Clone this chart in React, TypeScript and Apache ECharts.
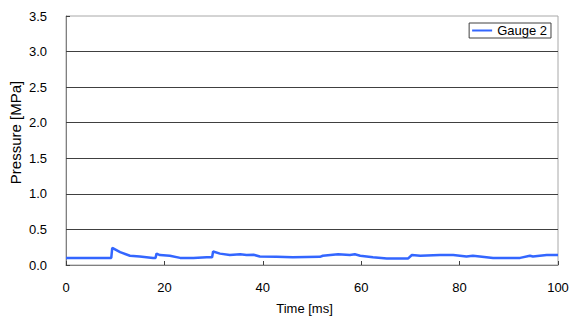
import React, { useEffect, useRef } from "react";
import * as echarts from "echarts";

const timeMs = [0, 9.2, 9.4, 11.0, 13.0, 15.0, 17.7, 18.2, 18.4, 19.1, 21.1, 23.2, 25.9, 28.6, 29.7, 29.9, 31.3, 33.3, 35.4, 36.7, 38.1, 39.4, 42.8, 46.1, 51.6, 52.2, 55.3, 57.7, 58.7, 59.8, 62.4, 65.2, 69.5, 70.3, 72.0, 76.0, 78.7, 81.4, 82.7, 84.1, 86.8, 92.3, 94.3, 94.9, 97.7, 100];
const gauge2 = [0.10, 0.10, 0.24, 0.18, 0.13, 0.12, 0.10, 0.10, 0.16, 0.14, 0.13, 0.10, 0.10, 0.11, 0.11, 0.19, 0.16, 0.14, 0.15, 0.14, 0.145, 0.12, 0.115, 0.11, 0.115, 0.13, 0.15, 0.14, 0.15, 0.13, 0.11, 0.09, 0.09, 0.14, 0.13, 0.14, 0.14, 0.12, 0.13, 0.12, 0.10, 0.10, 0.13, 0.12, 0.14, 0.14];
const seriesName = "Gauge 2";

export default function App() {
  const ref = useRef<HTMLDivElement>(null);
  useEffect(() => {
    if (!ref.current) return;
    const chart = echarts.init(ref.current, null, { renderer: "svg" });
    const font = "'Liberation Sans', Arial, sans-serif";
    chart.setOption({
      animation: false,
      backgroundColor: "#ffffff",
      textStyle: { fontFamily: font },
      grid: {
        left: 66,
        right: 22,
        top: 16,
        bottom: 59,
        containLabel: false,
        outerBoundsMode: "none",
        show: true,
        borderColor: "#a8a8a8",
        borderWidth: 1,
      },
      legend: {
        top: 23,
        right: 29,
        orient: "vertical",
        backgroundColor: "#ffffff",
        borderColor: "#404040",
        borderWidth: 1,
        borderRadius: 0,
        padding: [1, 4, 1, 3],
        itemWidth: 20,
        itemHeight: 12,
        itemGap: 4,
        textStyle: { fontSize: 13, color: "#000", fontFamily: font },
        data: [{ name: seriesName, icon: "path://M0,5 L20,5 L20,7 L0,7 Z" }],
      },
      xAxis: {
        type: "value",
        min: 0,
        max: 100,
        interval: 20,
        name: "Time [ms]",
        nameLocation: "middle",
        nameGap: 37,
        nameMoveOverlap: false,
        nameTextStyle: { fontSize: 13, color: "#000", fontFamily: font, padding: [0, 15, 0, 0] },
        axisLine: { lineStyle: { color: "#808080", width: 1 } },
        axisTick: { inside: true, length: 4, lineStyle: { color: "#404040" } },
        axisLabel: { fontSize: 13, color: "#000", margin: 16, fontFamily: font },
        splitLine: { show: false },
      },
      yAxis: {
        type: "value",
        min: 0,
        max: 3.5,
        interval: 0.5,
        name: "Pressure [MPa]",
        nameLocation: "middle",
        nameGap: 43,
        nameMoveOverlap: false,
        nameTextStyle: { fontSize: 15, color: "#000", fontFamily: font, padding: [0, 0, 0, 16] },
        axisLine: { show: true, lineStyle: { color: "#808080", width: 1 } },
        axisTick: { show: true, inside: true, length: 4, lineStyle: { color: "#404040" } },
        axisLabel: {
          fontSize: 13,
          color: "#000",
          margin: 19,
          fontFamily: font,
          formatter: (v: number) => v.toFixed(1),
        },
        splitLine: {
          show: true,
          showMinLine: false,
          showMaxLine: false,
          lineStyle: { color: "#404040", width: 1 },
        },
      },
      series: [
        {
          name: seriesName,
          type: "line",
          symbol: "none",
          data: timeMs.map((t, i) => [t, gauge2[i]]),
          lineStyle: { color: "#3366ff", width: 2.5 },
          itemStyle: { color: "#3366ff" },
        },
      ],
    });
    return () => chart.dispose();
  }, []);
  return <div ref={ref} style={{ width: 580, height: 324, position: "absolute", left: 0, top: 0 }} />;
}
